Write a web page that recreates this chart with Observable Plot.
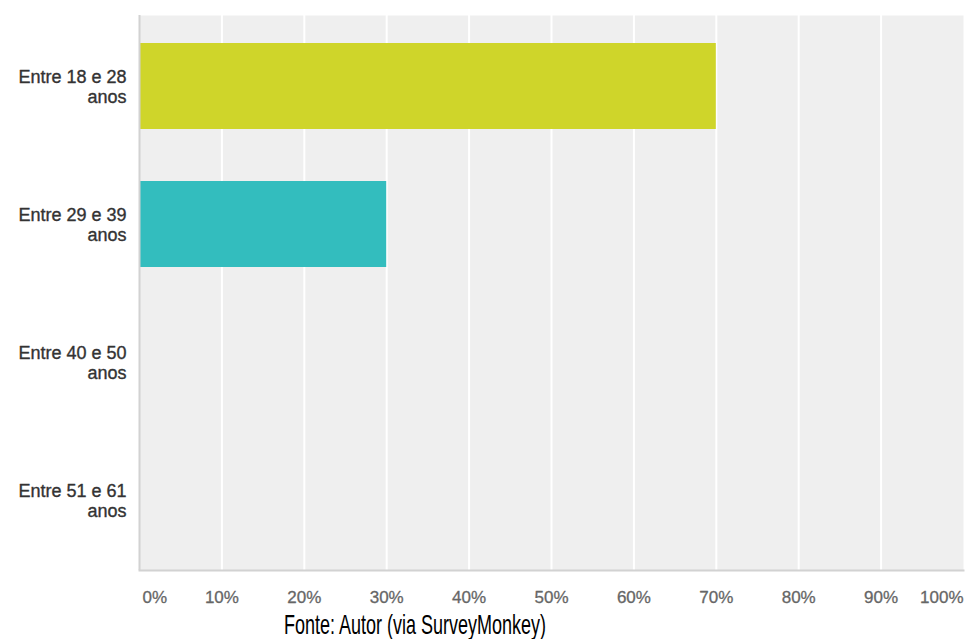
<!DOCTYPE html>
<html>
<head>
<meta charset="utf-8">
<script src="https://cdn.jsdelivr.net/npm/d3@7"></script>
<script src="https://cdn.jsdelivr.net/npm/@observablehq/plot@0.6"></script>
<style>
  html, body { margin: 0; padding: 0; background: #fff; }
  #wrap { position: relative; width: 966px; height: 639px; overflow: hidden; }
  #caption {
    position: absolute; left: 284px; top: 611px;
    font-family: "Liberation Sans", Arial, sans-serif; font-size: 18px; color: #000;
    transform: scaleY(1.55); transform-origin: 0 0; white-space: nowrap; line-height: 1;
  }
</style>
</head>
<body>
<div id="wrap"><div id="chart"></div><div id="caption"></div></div>
<script>
const categories = ["Entre 18 e 28 anos", "Entre 29 e 39 anos", "Entre 40 e 50 anos", "Entre 51 e 61 anos"];
const values = [70, 30, 0, 0];
const barColors = ["#cfd52a", "#33bdbe", "#cfd52a", "#33bdbe"];
const tickValues = [0, 10, 20, 30, 40, 50, 60, 70, 80, 90, 100];
const tickLabels = ["0%", "10%", "20%", "30%", "40%", "50%", "60%", "70%", "80%", "90%", "100%"];
const captionText = "Fonte: Autor (via SurveyMonkey)";

const data = categories.map((c, i) => ({category: c, value: values[i], color: barColors[i]}));
const ticks = tickValues.map((v, i) => ({v, label: tickLabels[i]}));
const splitLabel = s => s.replace(/ anos$/, "\nanos");

const chart = Plot.plot({
  width: 966,
  height: 639,
  marginLeft: 139,
  marginRight: 3,
  marginTop: 15,
  marginBottom: 69,
  style: {fontFamily: "Liberation Sans, Arial, sans-serif", background: "#fff"},
  x: {domain: [0, 100], axis: null},
  y: {domain: categories, axis: null, paddingInner: 0.38, paddingOuter: 0.19},
  marks: [
    Plot.frame({fill: "#efefef", stroke: null}),
    Plot.ruleX(tickValues.slice(1, -1), {stroke: "#ffffff", strokeWidth: 2}),
    Plot.barX(data, {x: "value", y: "category", fill: "color"}),
    Plot.ruleX([0], {stroke: "#d2d2d2", strokeWidth: 2}),
    Plot.frame({anchor: "bottom", stroke: "#d2d2d2", strokeWidth: 2}),
    Plot.text(data, {y: "category", text: d => splitLabel(d.category), frameAnchor: "left", textAnchor: "end", dx: -13, fontSize: 18, lineHeight: 1.1, fill: "#333333", stroke: "#333333", strokeWidth: 0.35}),
    Plot.text(ticks.slice(0, 1), {x: "v", text: "label", frameAnchor: "bottom", dy: 32, dx: 3, textAnchor: "start", fontSize: 17, fill: "#666666", stroke: "#666666", strokeWidth: 0.3}),
    Plot.text(ticks.slice(1, -1), {x: "v", text: "label", frameAnchor: "bottom", dy: 32, textAnchor: "middle", fontSize: 17, fill: "#666666", stroke: "#666666", strokeWidth: 0.3}),
    Plot.text(ticks.slice(-1), {x: "v", text: "label", frameAnchor: "bottom", dy: 32, textAnchor: "end", fontSize: 17, fill: "#666666", stroke: "#666666", strokeWidth: 0.3})
  ]
});
document.getElementById("chart").appendChild(chart);
document.getElementById("caption").textContent = captionText;
</script>
</body>
</html>
